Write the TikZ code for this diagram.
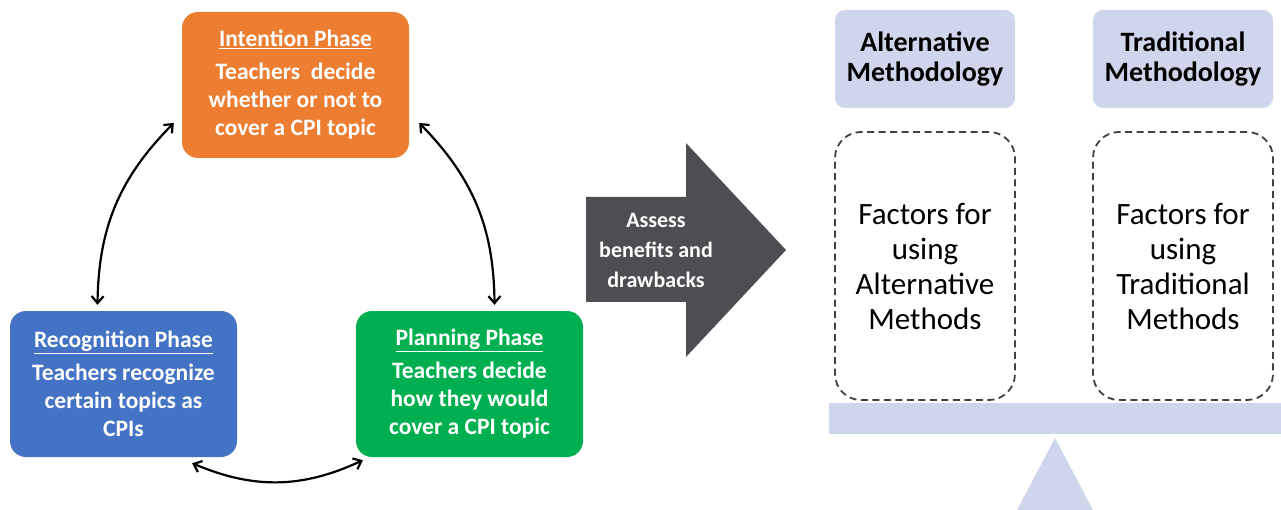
\documentclass[tikz,border=0pt]{standalone}
\usepackage{fontspec}
\setmainfont{Carlito}
\usetikzlibrary{arrows.meta,positioning}
\definecolor{phorange}{HTML}{ED7D31}
\definecolor{phblue}{HTML}{4472C4}
\definecolor{phgreen}{HTML}{00B050}
\definecolor{darkarrow}{HTML}{4D4E52}
\definecolor{lav}{HTML}{CFD5EA}
\tikzset{
  phase/.style={rounded corners=16pt, minimum width=227pt, minimum height=146pt,
    text=white, align=center, inner sep=0pt,
    font=\fontsize{23.5}{28}\selectfont\bfseries},
  header/.style={fill=lav, rounded corners=10pt, minimum width=180pt, minimum height=98pt,
    align=center, inner sep=0pt, font=\fontsize{28}{30}\selectfont\bfseries},
  factor/.style={draw=black!75, dash pattern=on 7pt off 4.5pt, line width=1.8pt, rounded corners=26pt,
    minimum width=180pt, minimum height=268pt, align=center, inner sep=0pt,
    font=\fontsize{31}{35}\selectfont},
  cyc/.style={line width=2.2pt, {Straight Barb[length=7pt,width=12pt]}-{Straight Barb[length=7pt,width=12pt]}},
}
\begin{document}
\begin{tikzpicture}[x=1pt,y=-1pt]
\useasboundingbox (0,0) rectangle (1281,510);
% phases
\node[phase, fill=phorange] (int) at (295.5,85) {\underline{Intention Phase}\\[5pt]Teachers\ \ decide\\whether or not to\\cover a CPI topic};
\node[phase, fill=phblue] (rec) at (123.5,384) {\underline{Recognition Phase}\\[5pt]Teachers recognize\\certain topics as\\CPIs};
\node[phase, fill=phgreen] (pla) at (469.5,384) {\underline{Planning Phase}\\[5pt]Teachers decide\\how they would\\cover a CPI topic};
% cycle arrows
\draw[cyc] ([shift={(-8,38)}]int.west) to[bend right=22] ([shift={(-26,-6)}]rec.north);
\draw[cyc] ([shift={(10,38)}]int.east) to[bend left=22] ([shift={(25,-6)}]pla.north);
\draw[cyc] ([shift={(-45,6)}]rec.south east) to[bend right=24] ([shift={(7,3)}]pla.south west);
% big arrow
\fill[darkarrow] (586,197) -- (686,197) -- (686,143) -- (786,250) -- (686,357) -- (686,302) -- (586,302) -- cycle;
\node[text=white, align=center, font=\fontsize{22}{30}\selectfont\bfseries] (assess) at (656,250) {Assess\\benefits and\\drawbacks};
% balance
\node[header] (althead) at (925,59) {Alternative\\Methodology};
\node[header] (trahead) at (1183,59) {Traditional\\Methodology};
\node[factor] (altfac) at (925,266) {Factors for\\using\\Alternative\\Methods};
\node[factor] (trafac) at (1183,266) {Factors for\\using\\Traditional\\Methods};
\fill[lav] (829,403) rectangle (1281,434);
\fill[lav] (1055,438) -- (1093,510) -- (1017,510) -- cycle;
\end{tikzpicture}
\end{document}
